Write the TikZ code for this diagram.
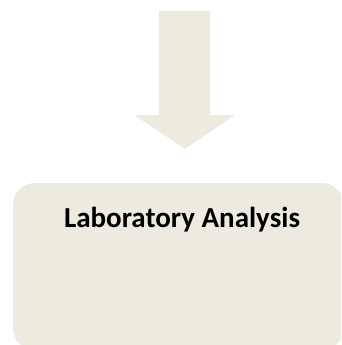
\documentclass[tikz,border=0pt]{standalone}
\usepackage{fontspec}
\setmainfont{Carlito}
\definecolor{tan}{RGB}{237,234,224}
\begin{document}
\begin{tikzpicture}[x=1pt,y=-1pt,
  shape fill/.style={fill=tan,draw=none}]
\useasboundingbox (0,0) rectangle (341,345);
\begin{scope}
\clip (0,0) rectangle (341,345);
\fill[shape fill] (13,183) [rounded corners=22pt] -- (13,350) -- (344,350) -- (344,183) -- cycle;
\end{scope}
\fill[shape fill] (159,11) -- (210,11) -- (210,115) -- (235,115) -- (185,149) -- (134,115) -- (159,115) -- cycle;
\node[font=\bfseries\fontsize{29}{33}\selectfont, anchor=base, inner sep=0pt] (lab) at (182,227) {Laboratory Analysis};
\end{tikzpicture}
\end{document}
